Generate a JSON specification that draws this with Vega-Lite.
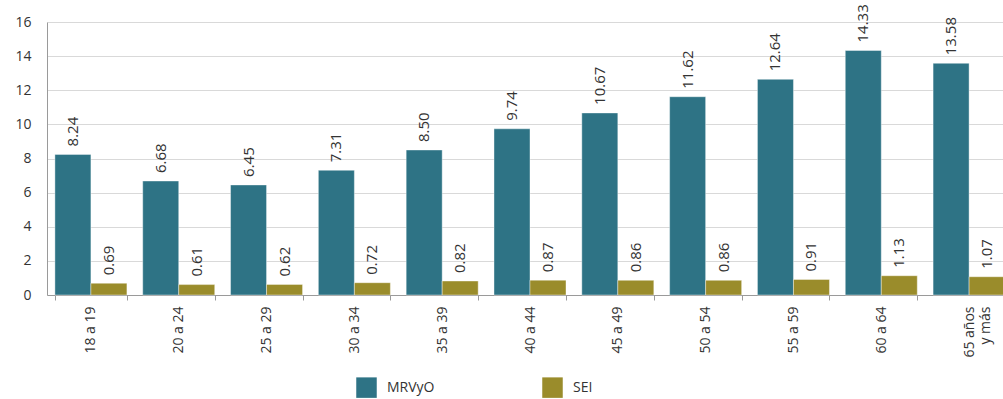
{
  "$schema": "https://vega.github.io/schema/vega-lite/v6.json",
  "width": 966,
  "height": 273,
  "autosize": {"type": "none"},
  "padding": {"left": 47, "top": 22, "right": 0, "bottom": 104},
  "background": "white",
  "config": {
    "font": "Open Sans",
    "view": {"stroke": null},
    "axis": {"labelFont": "Open Sans", "labelColor": "#333333", "domainColor": "#9a9a9a", "tickColor": "#9a9a9a"}
  },
  "data": {
    "values": [
      {"grupo": "18 a 19", "serie": "MRVyO", "valor": 8.24},
      {"grupo": "18 a 19", "serie": "SEI", "valor": 0.69},
      {"grupo": "20 a 24", "serie": "MRVyO", "valor": 6.68},
      {"grupo": "20 a 24", "serie": "SEI", "valor": 0.61},
      {"grupo": "25 a 29", "serie": "MRVyO", "valor": 6.45},
      {"grupo": "25 a 29", "serie": "SEI", "valor": 0.62},
      {"grupo": "30 a 34", "serie": "MRVyO", "valor": 7.31},
      {"grupo": "30 a 34", "serie": "SEI", "valor": 0.72},
      {"grupo": "35 a 39", "serie": "MRVyO", "valor": 8.50},
      {"grupo": "35 a 39", "serie": "SEI", "valor": 0.82},
      {"grupo": "40 a 44", "serie": "MRVyO", "valor": 9.74},
      {"grupo": "40 a 44", "serie": "SEI", "valor": 0.87},
      {"grupo": "45 a 49", "serie": "MRVyO", "valor": 10.67},
      {"grupo": "45 a 49", "serie": "SEI", "valor": 0.86},
      {"grupo": "50 a 54", "serie": "MRVyO", "valor": 11.62},
      {"grupo": "50 a 54", "serie": "SEI", "valor": 0.86},
      {"grupo": "55 a 59", "serie": "MRVyO", "valor": 12.64},
      {"grupo": "55 a 59", "serie": "SEI", "valor": 0.91},
      {"grupo": "60 a 64", "serie": "MRVyO", "valor": 14.33},
      {"grupo": "60 a 64", "serie": "SEI", "valor": 1.13},
      {"grupo": "65 años y más", "serie": "MRVyO", "valor": 13.58},
      {"grupo": "65 años y más", "serie": "SEI", "valor": 1.07}
    ]
  },
  "encoding": {
    "x": {
      "field": "grupo", "type": "nominal", "sort": null,
      "scale": {"paddingInner": 0.18, "paddingOuter": 0.09},
      "axis": {
        "title": null, "labelAngle": -90, "labelFontSize": 14, "labelPadding": 6,
        "tickBand": "extent", "tickSize": 5, "ticks": true,
        "labelExpr": "datum.label == '65 años y más' ? ['65 años', 'y más'] : datum.label"
      }
    },
    "xOffset": {"field": "serie", "type": "nominal", "scale": {"paddingInner": 0, "paddingOuter": 0}},
    "y": {
      "field": "valor", "type": "quantitative",
      "scale": {"domain": [0, 16], "nice": false},
      "axis": {
        "title": null, "values": [0, 2, 4, 6, 8, 10, 12, 14, 16],
        "labelFontSize": 14, "labelPadding": 16, "ticks": false,
        "grid": true, "gridColor": "#d9d9d9", "domain": true
      }
    }
  },
  "layer": [
    {
      "mark": {"type": "bar", "stroke": "#ffffff", "strokeOpacity": 0.4, "strokeWidth": 1},
      "encoding": {
        "color": {
          "field": "serie", "type": "nominal",
          "scale": {"domain": ["MRVyO", "SEI"], "range": ["#2e7385", "#9a8c2b"]},
          "legend": {
            "title": null, "orient": "none", "direction": "horizontal",
            "legendX": 309, "legendY": 355,
            "symbolType": "square", "symbolSize": 420, "symbolStrokeWidth": 0,
            "labelFontSize": 14, "labelColor": "#333333", "labelOffset": 10,
            "columnPadding": 107, "padding": 0
          }
        }
      }
    },
    {
      "mark": {"type": "text", "angle": -90, "align": "left", "baseline": "middle", "dx": 8, "fontSize": 15, "color": "#333333"},
      "encoding": {
        "text": {"field": "valor", "type": "quantitative", "format": ".2f"}
      }
    }
  ]
}
